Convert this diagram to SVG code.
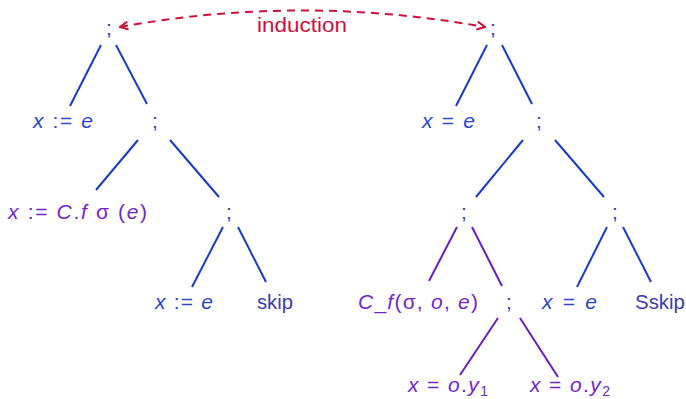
<svg xmlns="http://www.w3.org/2000/svg" width="686" height="399" viewBox="0 0 686 399">
<defs>
<style>
.t{font-family:"Liberation Sans","DejaVu Sans",sans-serif;font-size:21px;text-anchor:middle}
.i{font-style:italic}
.b{fill:#2b46d0}
.p{fill:#7326cc}
.s{fill:#3c3caa}
.lb{stroke:#1a3acc;stroke-width:2;fill:none}
.lp{stroke:#6a1cc4;stroke-width:2;fill:none}
.ind{stroke:#d0103a;stroke-width:2;fill:none;stroke-dasharray:8 6}
</style>
<marker id="ah" viewBox="0 0 10 10" refX="9" refY="5" markerWidth="10" markerHeight="10" markerUnits="userSpaceOnUse" orient="auto-start-reverse">
<path d="M1,1 L9,5 L1,9" fill="none" stroke="#d0103a" stroke-width="2"/>
</marker>
</defs>
<rect width="686" height="399" fill="#ffffff"/>
<g id="connectors">
<path class="ind" d="M120,27 Q302,-6 485,27" marker-start="url(#ah)" marker-end="url(#ah)"/>
<line class="lb" x1="101" y1="45" x2="70" y2="106"/>
<line class="lb" x1="116" y1="45" x2="147" y2="104"/>
<line class="lb" x1="138" y1="140" x2="96" y2="190"/>
<line class="lb" x1="170" y1="140" x2="219" y2="197"/>
<line class="lb" x1="223" y1="227" x2="192" y2="287"/>
<line class="lb" x1="238" y1="227" x2="266" y2="282"/>
<line class="lb" x1="487" y1="45" x2="456" y2="106"/>
<line class="lb" x1="502" y1="45" x2="532" y2="104"/>
<line class="lb" x1="523" y1="140" x2="476" y2="197"/>
<line class="lb" x1="555" y1="140" x2="604" y2="197"/>
<line class="lp" x1="457" y1="227" x2="429" y2="281"/>
<line class="lp" x1="472" y1="227" x2="502" y2="286"/>
<line class="lb" x1="607" y1="227" x2="577" y2="287"/>
<line class="lb" x1="623" y1="227" x2="651" y2="282"/>
<line class="lp" x1="498" y1="318" x2="460" y2="375"/>
<line class="lp" x1="520" y1="318" x2="558" y2="377"/>
</g>
<g id="induction-label"><text class="t" x="302" y="32" fill="#d0103a" textLength="90" lengthAdjust="spacingAndGlyphs">induction</text></g>
<g id="l-root"><text class="t s" x="109" y="35">;</text></g>
<g id="l-assign1"><text class="t b" x="63" y="128" textLength="60"><tspan class="i">x</tspan> :=<tspan class="i"> e</tspan></text></g>
<g id="l-seq1"><text class="t s" x="155" y="128">;</text></g>
<g id="l-call"><text class="t p" x="77.5" y="219" textLength="139"><tspan class="i">x</tspan> := <tspan class="i">C</tspan>.<tspan class="i">f</tspan> σ (<tspan class="i">e</tspan>)</text></g>
<g id="l-seq2"><text class="t s" x="229" y="219">;</text></g>
<g id="l-assign2"><text class="t b" x="184" y="309" textLength="58"><tspan class="i">x</tspan> :=<tspan class="i"> e</tspan></text></g>
<g id="l-skip"><text class="t s" x="275" y="309" textLength="36" lengthAdjust="spacingAndGlyphs">skip</text></g>
<g id="r-root"><text class="t s" x="493" y="35">;</text></g>
<g id="r-assign1"><text class="t b" x="448.5" y="128" textLength="53"><tspan class="i">x</tspan> = <tspan class="i">e</tspan></text></g>
<g id="r-seq1"><text class="t s" x="539" y="128">;</text></g>
<g id="r-seq2"><text class="t s" x="464" y="219">;</text></g>
<g id="r-seq3"><text class="t s" x="615" y="219">;</text></g>
<g id="r-cf"><text class="t p" x="418" y="309" textLength="120"><tspan class="i">C</tspan>_<tspan class="i">f</tspan>(σ, <tspan class="i">o</tspan>, <tspan class="i">e</tspan>)</text></g>
<g id="r-seq4"><text class="t s" x="509" y="309">;</text></g>
<g id="r-assign2"><text class="t b" x="569.5" y="309" textLength="55"><tspan class="i">x</tspan> = <tspan class="i">e</tspan></text></g>
<g id="r-sskip"><text class="t s" x="660" y="309" textLength="50" lengthAdjust="spacingAndGlyphs">Sskip</text></g>
<g id="r-y1"><text class="t p" x="448" y="392" textLength="80"><tspan class="i">x</tspan> = <tspan class="i">o</tspan>.<tspan class="i">y</tspan><tspan font-size="14" dy="4">1</tspan></text></g>
<g id="r-y2"><text class="t p" x="570" y="392" textLength="80"><tspan class="i">x</tspan> = <tspan class="i">o</tspan>.<tspan class="i">y</tspan><tspan font-size="14" dy="4">2</tspan></text></g>
</svg>
